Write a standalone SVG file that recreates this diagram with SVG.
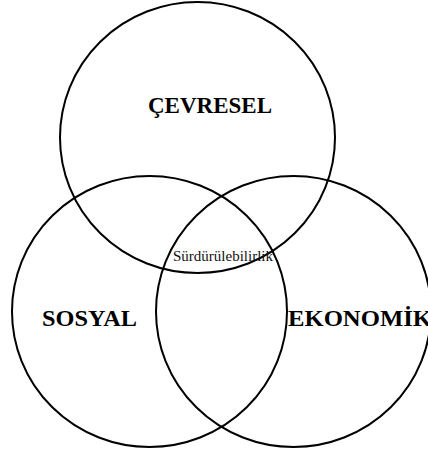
<svg xmlns="http://www.w3.org/2000/svg" width="428" height="454" viewBox="0 0 428 454">
<style>
.c{fill:none;stroke:#000;stroke-width:2}
.t{font-family:"Liberation Serif","Times New Roman",serif;font-weight:bold;font-size:23px;fill:#000}
.s{font-family:"Liberation Serif","Times New Roman",serif;font-size:14.5px;fill:#111}
</style>
<rect width="428" height="454" fill="#fff"/>
<g id="cevresel">
<ellipse class="c" cx="197.5" cy="137.5" rx="137.5" ry="135.5"/>
<text class="t" x="210" y="113" text-anchor="middle" textLength="124" lengthAdjust="spacingAndGlyphs">ÇEVRESEL</text>
</g>
<g id="sosyal">
<ellipse class="c" cx="149.5" cy="311.5" rx="137.5" ry="135.5"/>
<text class="t" x="42" y="326" textLength="95" lengthAdjust="spacingAndGlyphs">SOSYAL</text>
</g>
<g id="ekonomik">
<ellipse class="c" cx="293.5" cy="311.5" rx="137.5" ry="135.5"/>
<text class="t" x="288" y="326" textLength="144" lengthAdjust="spacingAndGlyphs">EKONOMİK</text>
</g>
<g id="surdurulebilirlik">
<text class="s" x="173" y="261" textLength="100" lengthAdjust="spacingAndGlyphs">Sürdürülebilirlik</text>
</g>
</svg>
